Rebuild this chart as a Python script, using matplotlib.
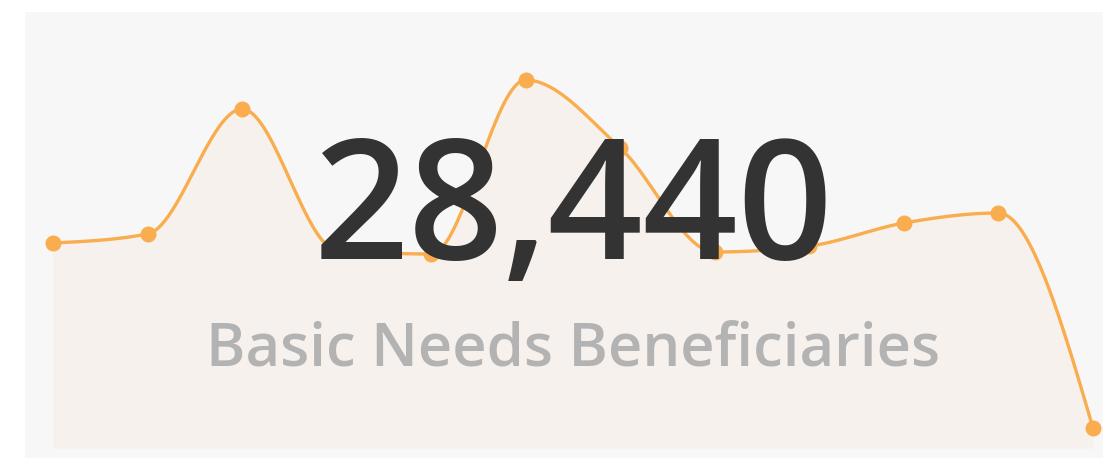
import numpy as np
import matplotlib
matplotlib.use('Agg')
import matplotlib.pyplot as plt

# data
months = list(range(12))
beneficiaries = [2050, 2140, 3390, 1980, 1940, 3680, 3000, 1960, 2020, 2250, 2350, 200]
total_label = "28,440"
subtitle = "Basic Needs Beneficiaries"

W, H = 1103, 459


def monotone_x(x, y, n=40):
    # same curve as d3.curveMonotoneX (Fritsch-Carlson style tangents)
    x = np.asarray(x, float)
    y = np.asarray(y, float)
    h = np.diff(x)
    s = np.diff(y) / h
    t = np.zeros_like(y)
    for i in range(1, len(x) - 1):
        p = (s[i - 1] * h[i] + s[i] * h[i - 1]) / (h[i - 1] + h[i])
        t[i] = (np.sign(s[i - 1]) + np.sign(s[i])) * min(abs(s[i - 1]), abs(s[i]), 0.5 * abs(p))
    t[0] = (3 * s[0] - t[1]) / 2
    t[-1] = (3 * s[-1] - t[-2]) / 2
    xs, ys = [], []
    for i in range(len(x) - 1):
        u = np.linspace(0, 1, n, endpoint=(i == len(x) - 2))
        h00 = 2 * u**3 - 3 * u**2 + 1
        h10 = u**3 - 2 * u**2 + u
        h01 = -2 * u**3 + 3 * u**2
        h11 = u**3 - u**2
        xs.append(x[i] + u * h[i])
        ys.append(h00 * y[i] + h10 * h[i] * t[i] + h01 * y[i + 1] + h11 * h[i] * t[i + 1])
    return np.concatenate(xs), np.concatenate(ys)


fig = plt.figure(figsize=(W / 100, H / 100), dpi=100)
fig.patch.set_facecolor('white')

# grey card behind everything
bg = fig.add_axes([25 / W, 1 / H, 1078 / W, 446 / H], zorder=0)
bg.set_facecolor('#f7f7f7')
bg.set_xticks([])
bg.set_yticks([])
for sp in bg.spines.values():
    sp.set_visible(False)

ax = fig.add_axes([53 / W, (H - 448) / H, 1040 / W, 436 / H], zorder=1)
ax.set_xlim(0, 11)
ax.set_ylim(0, 4360)
ax.axis('off')

cx, cy = monotone_x(months, beneficiaries)
ax.fill_between(cx, cy, 0, color='#f7f1ed', lw=0, zorder=1)
ax.plot(cx, cy, color='#f9ad4e', lw=2.4, zorder=2, clip_on=False, solid_capstyle='round')
ax.plot(months, beneficiaries, 'o', color='#f9ad4e', ms=11.5, mec='none', zorder=3, clip_on=False)

ax.text(573 / W, (H - 259) / H, total_label, transform=fig.transFigure, ha='center', va='baseline',
        fontsize=120, fontfamily='Open Sans', fontweight='semibold', color='#333333', zorder=5)
ax.text(573 / W, (H - 365) / H, subtitle, transform=fig.transFigure, ha='center', va='baseline',
        fontsize=43, fontfamily='Open Sans', fontweight='semibold', color='#b3b3b3', zorder=5)

fig.savefig('out.png', dpi=100, facecolor='white')
